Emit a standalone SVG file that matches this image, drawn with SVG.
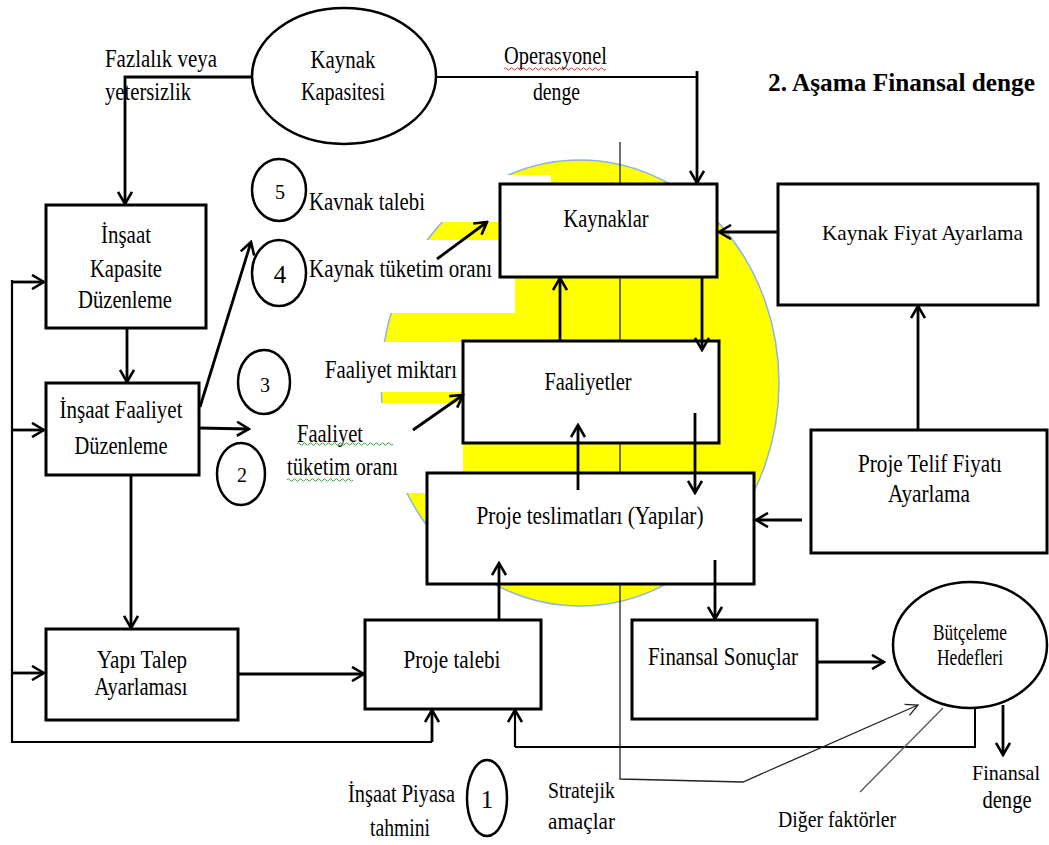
<svg xmlns="http://www.w3.org/2000/svg" width="1049" height="845" viewBox="0 0 1049 845">
<style>
.t{font-family:"Liberation Serif","Times New Roman",serif;font-size:25px;fill:#000}
.m{text-anchor:middle}
.b{font-weight:bold;font-size:25px}
.s{font-size:23px}
.n{font-size:20px;text-anchor:middle}
.box{fill:#fff;stroke:#000;stroke-width:3}
.ell{fill:#fff;stroke:#000;stroke-width:2.5}
.c{fill:none;stroke:#000;stroke-width:2.8;marker-end:url(#arr)}
.cl{fill:none;stroke:#000;stroke-width:2}
.th{fill:none;stroke:#222;stroke-width:1.3}
</style>
<defs>
<marker id="arr" markerUnits="userSpaceOnUse" viewBox="0 0 16 16" markerWidth="16" markerHeight="16" refX="14" refY="8" orient="auto">
<path d="M2,1 L14,8 L2,15" fill="none" stroke="#000" stroke-width="2.6"/>
</marker>
<marker id="arrT" markerUnits="userSpaceOnUse" viewBox="0 0 16 16" markerWidth="16" markerHeight="16" refX="14" refY="8" orient="auto">
<path d="M2,2 L14,8 L2,14" fill="none" stroke="#222" stroke-width="1.3"/>
</marker>
</defs>
<rect width="1049" height="845" fill="#fff"/>
<g id="background">
<ellipse cx="580" cy="383" rx="199" ry="223" fill="#ffff00" stroke="#8eb4e3" stroke-width="1.5"/>
<rect x="290" y="175" width="261" height="47" fill="#fff"/>
<rect x="290" y="240" width="225" height="73" fill="#fff"/>
<rect x="300" y="342" width="170" height="50" fill="#fff"/>
<rect x="280" y="403" width="183" height="90" fill="#fff"/>
</g>
<g id="title"><text class="t b" x="768" y="91" textLength="267" lengthAdjust="spacingAndGlyphs">2. Aşama Finansal denge</text></g>
<g id="kaynak-kapasitesi"><ellipse class="ell" cx="344" cy="76" rx="92" ry="68"/>
<text class="t m" x="343" y="68" textLength="65" lengthAdjust="spacingAndGlyphs">Kaynak</text>
<text class="t m" x="343" y="100" textLength="84" lengthAdjust="spacingAndGlyphs">Kapasitesi</text></g>
<g id="insaat-kapasite"><rect class="box" x="46" y="205" width="160" height="123"/>
<text class="t m" x="126" y="243" textLength="50" lengthAdjust="spacingAndGlyphs">İnşaat</text>
<text class="t m" x="126" y="277" textLength="72" lengthAdjust="spacingAndGlyphs">Kapasite</text>
<text class="t m" x="125" y="308" textLength="94" lengthAdjust="spacingAndGlyphs">Düzenleme</text></g>
<g id="insaat-faaliyet"><rect class="box" x="46" y="383" width="153" height="92"/>
<text class="t m" x="121" y="418" textLength="123" lengthAdjust="spacingAndGlyphs">İnşaat Faaliyet</text>
<text class="t m" x="121" y="454" textLength="93" lengthAdjust="spacingAndGlyphs">Düzenleme</text></g>
<g id="yapi-talep"><rect class="box" x="46" y="629" width="192" height="91"/>
<text class="t m" x="142" y="668" textLength="90" lengthAdjust="spacingAndGlyphs">Yapı Talep</text>
<text class="t m" x="141" y="695" textLength="93" lengthAdjust="spacingAndGlyphs">Ayarlaması</text></g>
<g id="proje-talebi"><rect class="box" x="365" y="620" width="176" height="89"/>
<text class="t m" x="452" y="668" textLength="97" lengthAdjust="spacingAndGlyphs">Proje talebi</text></g>
<g id="kaynaklar"><rect class="box" x="500" y="184" width="217" height="93"/>
<text class="t m" x="606" y="227" textLength="85" lengthAdjust="spacingAndGlyphs">Kaynaklar</text></g>
<g id="faaliyetler"><rect class="box" x="463" y="341" width="256" height="102"/>
<text class="t m" x="588" y="390" textLength="87" lengthAdjust="spacingAndGlyphs">Faaliyetler</text></g>
<g id="proje-teslimatlari"><rect class="box" x="427" y="473" width="327" height="111"/>
<text class="t m" x="590" y="524" textLength="227" lengthAdjust="spacingAndGlyphs">Proje teslimatları (Yapılar)</text></g>
<g id="kaynak-fiyat"><rect class="box" x="778" y="184" width="260" height="121"/>
<text class="t" x="822" y="240" style="font-size:22px" textLength="201" lengthAdjust="spacingAndGlyphs">Kaynak Fiyat Ayarlama</text></g>
<g id="proje-telif"><rect class="box" x="811" y="430" width="236" height="123"/>
<text class="t m" x="930" y="472" textLength="144" lengthAdjust="spacingAndGlyphs">Proje Telif Fiyatı</text>
<text class="t m" x="929" y="502" textLength="82" lengthAdjust="spacingAndGlyphs">Ayarlama</text></g>
<g id="finansal-sonuclar"><rect class="box" x="632" y="620" width="185" height="99"/>
<text class="t m" x="723" y="665" textLength="150" lengthAdjust="spacingAndGlyphs">Finansal Sonuçlar</text></g>
<g id="butceleme"><ellipse class="ell" cx="970" cy="645" rx="77" ry="63"/>
<text class="t s m" x="970" y="640" textLength="74" lengthAdjust="spacingAndGlyphs">Bütçeleme</text>
<text class="t s m" x="970" y="665" textLength="66" lengthAdjust="spacingAndGlyphs">Hedefleri</text></g>
<g id="circle-5"><ellipse class="ell" cx="279" cy="190" rx="27" ry="31"/><text class="t n" x="280" y="199">5</text></g>
<g id="circle-4"><ellipse class="ell" cx="279" cy="273" rx="27" ry="33"/><text class="t m" x="280" y="283">4</text></g>
<g id="circle-3"><ellipse class="ell" cx="264" cy="382" rx="26" ry="32"/><text class="t n" x="265" y="392">3</text></g>
<g id="circle-2"><ellipse class="ell" cx="241" cy="474" rx="24" ry="31"/><text class="t n" x="242" y="482">2</text></g>
<g id="circle-1"><ellipse class="ell" cx="487" cy="798" rx="20" ry="38"/><text class="t m" x="487" y="808">1</text></g>
<g id="labels">
<text class="t" x="105" y="67" textLength="112" lengthAdjust="spacingAndGlyphs">Fazlalık veya</text>
<text class="t" x="105" y="100" textLength="86" lengthAdjust="spacingAndGlyphs">yetersizlik</text>
<text class="t" x="504" y="64" textLength="103" lengthAdjust="spacingAndGlyphs">Operasyonel</text>
<text class="t" x="533" y="100" textLength="47" lengthAdjust="spacingAndGlyphs">denge</text>
<text class="t" x="309" y="210" textLength="116" lengthAdjust="spacingAndGlyphs">Kavnak talebi</text>
<text class="t" x="309" y="277" textLength="183" lengthAdjust="spacingAndGlyphs">Kaynak tüketim oranı</text>
<text class="t" x="325" y="378" textLength="132" lengthAdjust="spacingAndGlyphs">Faaliyet miktarı</text>
<text class="t" x="297" y="442" textLength="66" lengthAdjust="spacingAndGlyphs">Faaliyet</text>
<text class="t" x="287" y="475" textLength="111" lengthAdjust="spacingAndGlyphs">tüketim oranı</text>
<text class="t" x="348" y="802" textLength="107" lengthAdjust="spacingAndGlyphs">İnşaat Piyasa</text>
<text class="t m" x="400" y="836" textLength="60" lengthAdjust="spacingAndGlyphs">tahmini</text>
<text class="t s" x="548" y="798" textLength="67" lengthAdjust="spacingAndGlyphs">Stratejik</text>
<text class="t s" x="548" y="829" textLength="67" lengthAdjust="spacingAndGlyphs">amaçlar</text>
<text class="t" x="972" y="780" style="font-size:21px" textLength="68" lengthAdjust="spacingAndGlyphs">Finansal</text>
<text class="t m" x="1007" y="808" textLength="49" lengthAdjust="spacingAndGlyphs">denge</text>
<text class="t s" x="778" y="827" textLength="118" lengthAdjust="spacingAndGlyphs">Diğer faktörler</text>
<path d="M504,69 q1.5,-2.5 3,0 t3,0 t3,0 t3,0 t3,0 t3,0 t3,0 t3,0 t3,0 t3,0 t3,0 t3,0 t3,0 t3,0 t3,0 t3,0 t3,0 t3,0 t3,0 t3,0 t3,0 t3,0 t3,0 t3,0 t3,0 t3,0 t3,0 t3,0 t3,0 t3,0 t3,0 t3,0 t3,0 t3,0" fill="none" stroke="#e33" stroke-width="1"/>
<path d="M297,444 q1.5,-2.5 3,0 t3,0 t3,0 t3,0 t3,0 t3,0 t3,0 t3,0 t3,0 t3,0 t3,0 t3,0 t3,0 t3,0 t3,0 t3,0 t3,0 t3,0 t3,0 t3,0 t3,0 t3,0 t3,0 t3,0 t3,0 t3,0 t3,0 t3,0 t3,0 t3,0 t3,0 t3,0" fill="none" stroke="#3a3" stroke-width="1"/>
<path d="M287,480 q1.5,-2.5 3,0 t3,0 t3,0 t3,0 t3,0 t3,0 t3,0 t3,0 t3,0 t3,0 t3,0 t3,0 t3,0 t3,0 t3,0 t3,0 t3,0 t3,0 t3,0 t3,0 t3,0 t3,0" fill="none" stroke="#3a3" stroke-width="1"/>
</g>
<g id="connectors">
<path class="c" d="M252,77 H125 V204"/>
<path class="cl" d="M436,77 H697"/>
<path class="c" d="M697,71 V183"/>
<path class="c" d="M12,282 H44"/>
<path class="c" d="M12,430 H44"/>
<path class="c" d="M12,673 H44"/>
<path class="cl" d="M12,280 V742 H432" style="stroke-width:2.2"/>
<path class="c" d="M432,742 V710"/>
<path class="c" d="M127,328 V382"/>
<path class="c" d="M131,475 V628"/>
<path class="c" d="M200,407 L251,242"/>
<path class="c" d="M199,428 L249,429"/>
<path class="c" d="M238,674 H364"/>
<path class="c" d="M499,620 V563"/>
<path class="c" d="M437,259 L487,222"/>
<path class="c" d="M413,430 L463,395"/>
<path class="c" d="M560,341 V278"/>
<path class="c" d="M702,277 V350"/>
<path class="c" d="M578,490 V425"/>
<path class="c" d="M695,413 V493"/>
<path class="c" d="M778,232 H719"/>
<path class="c" d="M918,430 V306"/>
<path class="c" d="M802,520 H756"/>
<path class="c" d="M715,560 V619"/>
<path class="c" d="M817,662 H884"/>
<path class="cl" d="M975,708 V747 H515"/>
<path class="c" d="M515,747 V710" style="stroke-width:2.2"/>
<path class="c" d="M1003,705 V755"/>
<path class="th" d="M620,142 V183 M620,277 V341 M620,443 V473 M620,584 V779 L743,782 L918,705" style="marker-end:url(#arrT)"/>
<path class="th" d="M860,792 L943,708" style="stroke:#555"/>
</g>
</svg>
